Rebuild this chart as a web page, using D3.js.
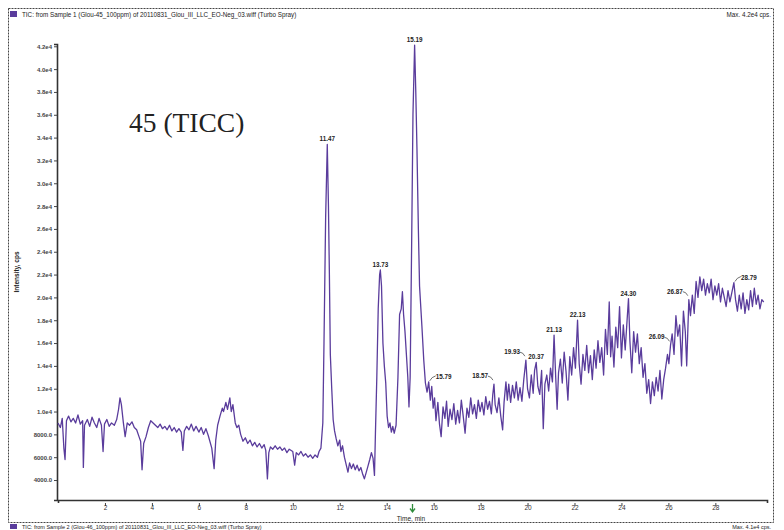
<!DOCTYPE html>
<html>
<head>
<meta charset="utf-8">
<script src="https://cdn.jsdelivr.net/npm/d3@7"></script>
<style>
  body { margin: 0; background: #fff; }
  #my_dataviz { width: 784px; height: 530px; }
  text { font-family: "Liberation Sans", Arial, sans-serif; }
</style>
</head>
<body>
<div id="my_dataviz"></div>
<script>
// TIC trace, [time in min, intensity in cps]
const ticData = [
  [0.00, 9000], [0.10, 8600], [0.18, 9400], [0.25, 6800], [0.30, 5800], [0.36, 9200],
  [0.45, 9600], [0.55, 9100], [0.65, 9400], [0.75, 9000], [0.85, 9700], [0.95, 8900],
  [1.05, 9200], [1.08, 5100], [1.13, 8800], [1.25, 9300], [1.35, 8700], [1.45, 9500],
  [1.55, 9000], [1.65, 8600], [1.75, 9400], [1.85, 8800], [1.92, 6500], [1.98, 8900],
  [2.08, 9300], [2.18, 8700], [2.28, 9000], [2.40, 8800], [2.50, 9300], [2.58, 10200],
  [2.64, 11200], [2.70, 10600], [2.78, 9100], [2.86, 7800], [2.95, 9000], [3.05, 8800],
  [3.15, 9100], [3.25, 8600], [3.35, 8400], [3.45, 7800], [3.52, 7400], [3.58, 4900],
  [3.65, 7200], [3.75, 7800], [3.85, 8600], [3.95, 9200], [4.05, 9000], [4.15, 8800],
  [4.25, 8600], [4.35, 8900], [4.45, 8500], [4.55, 8700], [4.65, 8400], [4.75, 8800],
  [4.85, 8300], [4.95, 8600], [5.05, 8200], [5.15, 8500], [5.25, 8200], [5.32, 6600],
  [5.38, 8300], [5.48, 8700], [5.58, 8400], [5.68, 8900], [5.78, 8300], [5.88, 8700],
  [6.00, 8200], [6.10, 8600], [6.20, 8000], [6.30, 8500], [6.40, 7900], [6.55, 6800],
  [6.65, 5000], [6.72, 7500], [6.80, 8800], [6.90, 9600], [7.00, 10300], [7.05, 10000],
  [7.15, 10800], [7.22, 10200], [7.32, 11200], [7.38, 10000], [7.45, 10600], [7.55, 9000],
  [7.62, 8600], [7.70, 8800], [7.78, 8000], [7.88, 7400], [7.98, 7700], [8.08, 7200],
  [8.18, 7500], [8.28, 7000], [8.38, 7300], [8.48, 6900], [8.58, 7200], [8.68, 6800],
  [8.78, 7100], [8.85, 6600], [8.92, 4100], [8.98, 6400], [9.05, 6900], [9.15, 6700],
  [9.25, 7000], [9.35, 6700], [9.45, 6900], [9.55, 6600], [9.65, 6800], [9.75, 6400],
  [9.85, 6700], [10.00, 6500], [10.08, 5300], [10.15, 6400], [10.25, 6200], [10.35, 6500],
  [10.45, 6100], [10.55, 6300], [10.65, 6000], [10.75, 6200], [10.85, 5900], [10.95, 6200],
  [11.05, 6000], [11.12, 6500], [11.20, 6800], [11.28, 9000], [11.33, 16000], [11.40, 27000],
  [11.47, 33400], [11.52, 28000], [11.56, 22000], [11.60, 15000], [11.66, 12000], [11.72, 9300],
  [11.78, 8300], [11.85, 7600], [11.92, 7000], [12.00, 7500], [12.05, 6500], [12.12, 7000],
  [12.20, 6000], [12.28, 5300], [12.35, 4700], [12.42, 5500], [12.50, 5000], [12.58, 5400],
  [12.66, 4900], [12.74, 5300], [12.82, 4800], [12.90, 5100], [12.98, 4500], [13.05, 4100],
  [13.12, 4600], [13.20, 5200], [13.28, 5800], [13.35, 6400], [13.42, 5900], [13.48, 4400],
  [13.52, 8000], [13.58, 13000], [13.64, 19000], [13.70, 22000], [13.73, 22400], [13.78, 21000],
  [13.84, 16000], [13.90, 14000], [13.96, 12500], [14.02, 9600], [14.08, 8600], [14.14, 9000],
  [14.20, 8200], [14.26, 8700], [14.32, 8100], [14.40, 8800], [14.48, 13000], [14.55, 18500],
  [14.62, 19000], [14.67, 20500], [14.72, 18500], [14.78, 17000], [14.84, 15000], [14.90, 13000],
  [14.95, 10400], [15.00, 13000], [15.06, 24000], [15.12, 36000], [15.19, 42100], [15.24, 38000],
  [15.29, 33000], [15.35, 26000], [15.40, 21000], [15.50, 17500], [15.58, 14500], [15.65, 12500],
  [15.72, 11700], [15.79, 12600], [15.86, 11000], [15.92, 12200], [15.98, 10300], [16.04, 11200],
  [16.10, 9200], [16.18, 10800], [16.25, 8900], [16.32, 7800], [16.40, 10400], [16.48, 9400],
  [16.55, 10900], [16.62, 8700], [16.70, 10200], [16.78, 9300], [16.86, 10700], [16.94, 8900],
  [17.02, 10100], [17.10, 9000], [17.18, 11000], [17.26, 9600], [17.34, 8100], [17.42, 10300],
  [17.50, 9500], [17.58, 11200], [17.66, 9800], [17.74, 10600], [17.82, 9400], [17.90, 11000],
  [17.98, 10000], [18.06, 10800], [18.14, 9700], [18.22, 11300], [18.30, 10200], [18.38, 10900],
  [18.46, 9800], [18.52, 11500], [18.57, 12400], [18.62, 10600], [18.70, 9900], [18.78, 11200],
  [18.86, 9600], [18.94, 8400], [19.00, 10800], [19.08, 12600], [19.14, 11000], [19.20, 12400],
  [19.28, 10800], [19.36, 12300], [19.44, 11200], [19.52, 12600], [19.60, 11000], [19.68, 12100],
  [19.76, 10900], [19.84, 12800], [19.93, 14500], [20.00, 12000], [20.08, 11200], [20.16, 13200],
  [20.24, 11600], [20.30, 13600], [20.37, 14300], [20.44, 12200], [20.52, 11500], [20.60, 13600],
  [20.67, 8500], [20.74, 12400], [20.82, 13200], [20.90, 11800], [20.98, 13800], [21.06, 12600],
  [21.13, 16700], [21.20, 13000], [21.26, 10200], [21.32, 13400], [21.40, 14600], [21.48, 12500],
  [21.56, 15200], [21.64, 13500], [21.72, 11000], [21.80, 14800], [21.88, 13200], [21.96, 15600],
  [22.04, 13800], [22.13, 18000], [22.20, 14200], [22.28, 12400], [22.36, 15000], [22.44, 13600],
  [22.52, 15800], [22.60, 13400], [22.68, 14900], [22.76, 12800], [22.84, 15400], [22.92, 13800],
  [23.00, 16200], [23.08, 14300], [23.16, 15600], [23.24, 13200], [23.32, 17200], [23.40, 15000],
  [23.48, 19600], [23.54, 14800], [23.60, 16600], [23.68, 13900], [23.76, 17400], [23.84, 15600],
  [23.92, 19200], [24.00, 14700], [24.08, 17600], [24.16, 15400], [24.24, 18000], [24.30, 19900],
  [24.36, 16200], [24.44, 13400], [24.52, 17000], [24.60, 15200], [24.68, 16800], [24.76, 14200],
  [24.84, 15600], [24.92, 13000], [25.00, 14200], [25.08, 11600], [25.16, 12800], [25.24, 10700],
  [25.32, 12600], [25.40, 11400], [25.48, 13000], [25.56, 11800], [25.64, 13600], [25.72, 11100],
  [25.80, 12800], [25.88, 13800], [25.96, 15000], [26.02, 14200], [26.09, 15800], [26.16, 16800],
  [26.24, 15000], [26.32, 18400], [26.40, 16600], [26.48, 17600], [26.56, 14000], [26.64, 18800],
  [26.72, 17000], [26.78, 14000], [26.87, 19800], [26.94, 18400], [27.02, 20200], [27.10, 18600],
  [27.18, 21400], [27.26, 20000], [27.34, 21800], [27.42, 20600], [27.50, 21600], [27.58, 20200],
  [27.66, 21200], [27.74, 20400], [27.82, 21600], [27.90, 19800], [27.98, 21000], [28.06, 20200],
  [28.14, 21200], [28.22, 19600], [28.30, 20800], [28.38, 20000], [28.46, 19200], [28.54, 20600],
  [28.62, 19600], [28.70, 20400], [28.79, 21300], [28.86, 19800], [28.94, 18800], [29.02, 20200],
  [29.10, 19000], [29.18, 20400], [29.26, 18600], [29.34, 19800], [29.42, 18900], [29.50, 20600],
  [29.58, 19200], [29.66, 20800], [29.74, 19400], [29.82, 20200], [29.90, 19000], [29.98, 19800],
  [30.06, 19600]
];

// peak labels printed by the software
const peakTimes  = [11.47, 13.73, 15.19, 15.79, 18.57, 19.93, 20.37, 21.13, 22.13, 24.30, 26.09, 26.87, 28.79];
const peakLabels = ["11.47", "13.73", "15.19", "15.79", "18.57", "19.93", "20.37", "21.13", "22.13", "24.30", "26.09", "26.87", "28.79"];
// where the label sits relative to its peak
const peakSide   = ["top", "top", "top", "right", "left", "left", "top", "top", "top", "top", "left", "left", "right"];

const xTickValues = [2, 4, 6, 8, 10, 12, 14, 16, 18, 20, 22, 24, 26, 28];
const yTickValues = [4000, 6000, 8000, 10000, 12000, 14000, 16000, 18000, 20000, 22000,
  24000, 26000, 28000, 30000, 32000, 34000, 36000, 38000, 40000, 42000];

const titleTop = "TIC: from Sample 1 (Glou-45_100ppm) of 20110831_Glou_III_LLC_EO-Neg_03.wiff (Turbo Spray)";
const maxTop = "Max. 4.2e4 cps.";
const titleNext = "TIC: from Sample 2 (Glou-46_100ppm) of 20110831_Glou_III_LLC_EO-Neg_03.wiff (Turbo Spray)";
const maxNext = "Max. 4.1e4 cps.";

const lineColor = "#5a3c9c";

// plot area in page pixels
const margin = {top: 44, right: 16, bottom: 30, left: 57},
    width = 784 - margin.left - margin.right,
    height = 530 - margin.top - margin.bottom;

let svg = d3.select("#my_dataviz")
    .append("svg")
    .attr("width", 784)
    .attr("height", 530);

// outer frame of the panel
svg.append("rect")
    .attr("x", 8.5).attr("y", 8.5)
    .attr("width", 765).attr("height", 514)
    .attr("fill", "none")
    .attr("stroke", "#444")
    .attr("stroke-width", 1)
    .attr("stroke-dasharray", "2,1");

// header row
svg.append("rect")
    .attr("x", 10).attr("y", 11).attr("width", 7).attr("height", 6)
    .attr("fill", lineColor);
svg.append("text")
    .attr("x", 22).attr("y", 17)
    .attr("font-size", 6.3)
    .attr("fill", "#222")
    .text(titleTop);
svg.append("text")
    .attr("x", 771).attr("y", 17)
    .attr("text-anchor", "end")
    .attr("font-size", 6.3)
    .attr("fill", "#222")
    .text(maxTop);

// next panel peeking in at the bottom
svg.append("rect")
    .attr("x", 10).attr("y", 524).attr("width", 7).attr("height", 5)
    .attr("fill", lineColor);
svg.append("text")
    .attr("x", 22).attr("y", 529)
    .attr("font-size", 5.5).attr("fill", "#222")
    .text(titleNext);
svg.append("text")
    .attr("x", 771).attr("y", 529)
    .attr("text-anchor", "end")
    .attr("font-size", 5.5).attr("fill", "#222")
    .text(maxNext);

let group = svg.append("g")
    .attr("transform", "translate(" + margin.left + "," + margin.top + ")");

// scales
let x = d3.scaleLinear()
    .domain([0, 30.2])
    .range([1, width - 1]);

let y = d3.scaleLinear()
    .domain([2250, 42200])
    .range([height, 0]);

// y tick format like the instrument: 4.2e4 / 8000.0
const yFormat = v => v >= 10000 ? (v / 10000).toFixed(1) + "e4" : v.toFixed(1);

// x axis
let xAxis = group.append("g")
    .attr("transform", "translate(0," + height + ")")
    .call(d3.axisBottom(x)
        .tickValues(xTickValues)
        .tickSize(3)
        .tickFormat(d3.format("d")));
xAxis.select(".domain").attr("stroke", "#333").attr("stroke-width", 1.6);
xAxis.selectAll(".tick line").attr("stroke", "#444").attr("y1", 3).attr("y2", 6);
xAxis.selectAll(".tick text")
    .attr("font-size", 6.5)
    .attr("fill", "#333")
    .attr("dy", "0.55em");

// y axis
let yAxis = group.append("g")
    .call(d3.axisLeft(y)
        .tickValues(yTickValues)
        .tickSize(3)
        .tickFormat(yFormat));
yAxis.select(".domain").attr("stroke", "#333").attr("stroke-width", 1.6);
yAxis.selectAll(".tick line").attr("stroke", "#444");
yAxis.selectAll(".tick text")
    .attr("font-size", 6)
    .attr("font-weight", "bold")
    .attr("fill", "#444")
    .attr("x", -5);

// axis titles
svg.append("text")
    .attr("transform", "translate(19,272) rotate(-90)")
    .attr("text-anchor", "middle")
    .attr("font-size", 6.5)
    .attr("font-weight", "bold")
    .attr("fill", "#222")
    .text("Intensity, cps");

svg.append("text")
    .attr("x", 411).attr("y", 521)
    .attr("text-anchor", "middle")
    .attr("font-size", 6.5)
    .attr("fill", "#222")
    .text("Time, min");

// green marker under the axis
group.append("path")
    .attr("transform", "translate(" + x(15.1) + "," + (height + 4) + ")")
    .attr("d", "M0,0 L0,7 M-2.5,4.5 L0,8 L2.5,4.5")
    .attr("fill", "none")
    .attr("stroke", "#2e8b3a")
    .attr("stroke-width", 1.3);

// the trace
const ticLine = d3.line()
    .x(d => x(d[0]))
    .y(d => y(d[1]));

group.append("path")
    .datum(ticData)
    .attr("fill", "none")
    .attr("stroke", lineColor)
    .attr("stroke-width", 1.3)
    .attr("stroke-linejoin", "round")
    .attr("d", ticLine);

// peak labels
peakTimes.forEach(function(t, i) {
    let pt = ticData.reduce((a, b) => Math.abs(b[0] - t) < Math.abs(a[0] - t) ? b : a);
    let px = x(t), py = y(pt[1]);
    let label = group.append("text")
        .attr("font-size", 6.3)
        .attr("font-weight", "bold")
        .attr("fill", "#222")
        .text(peakLabels[i]);
    if (peakSide[i] === "top") {
        label.attr("x", px).attr("y", py - 3).attr("text-anchor", "middle");
    } else if (peakSide[i] === "left") {
        label.attr("x", px - 6).attr("y", py - 6).attr("text-anchor", "end");
        group.append("path")
            .attr("d", "M" + (px - 6) + "," + (py - 8) + " q3,0 5,4")
            .attr("fill", "none").attr("stroke", "#333").attr("stroke-width", 0.7);
    } else {
        label.attr("x", px + 7).attr("y", py - 3).attr("text-anchor", "start");
        group.append("path")
            .attr("d", "M" + (px + 1) + "," + (py - 1) + " q2,-4 6,-5")
            .attr("fill", "none").attr("stroke", "#333").attr("stroke-width", 0.7);
    }
});

// big annotation written on the printout
svg.append("text")
    .attr("x", 129).attr("y", 132)
    .style("font-family", "'Liberation Serif', 'Times New Roman', serif")
    .attr("font-size", 27.5)
    .attr("fill", "#222")
    .text("45 (TICC)");
</script>
</body>
</html>
